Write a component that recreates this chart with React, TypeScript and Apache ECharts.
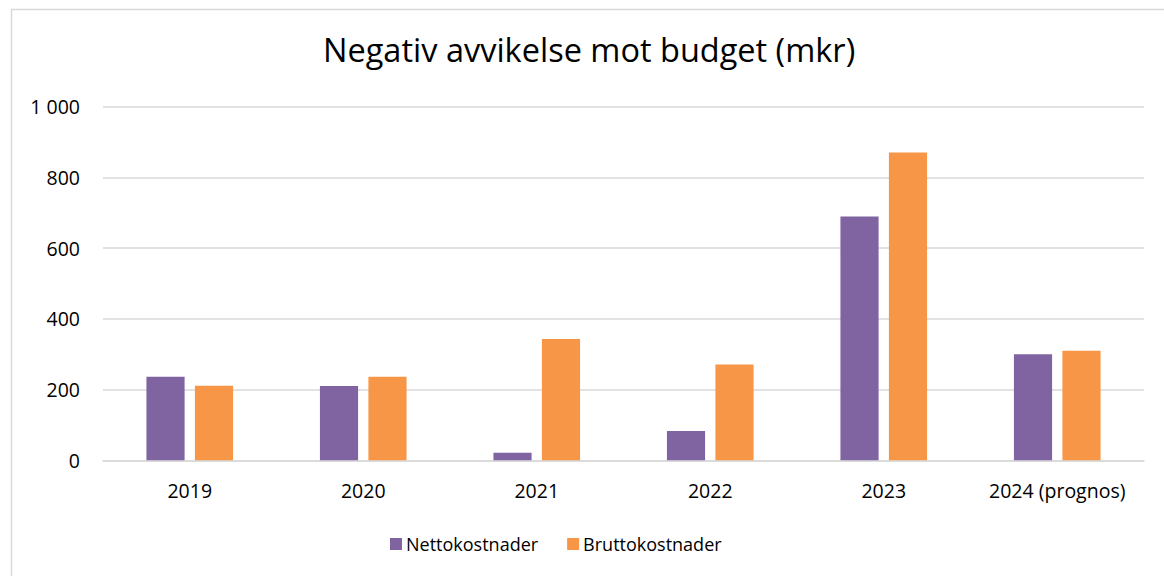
import React, { useEffect, useRef } from "react";
import * as echarts from "echarts";

const categories = ["2019", "2020", "2021", "2022", "2023", "2024 (prognos)"];
const nettokostnader = [236, 210, 21, 83, 689, 300];
const bruttokostnader = [211, 236, 343, 271, 870, 310];
const seriesNames = ["Nettokostnader", "Bruttokostnader"];
const titleText = "Negativ avvikelse mot budget (mkr)";

const FONT = "'Open Sans', 'Noto Sans', sans-serif";

export default function App() {
  const ref = useRef<HTMLDivElement>(null);
  useEffect(() => {
    if (!ref.current) return;
    const chart = echarts.init(ref.current, undefined, { renderer: "svg" });
    chart.setOption({
      animation: false,
      backgroundColor: "#ffffff",
      textStyle: { fontFamily: FONT },
      title: {
        text: titleText,
        left: 318,
        top: 28,
        textStyle: { fontFamily: FONT, fontSize: 32.5, fontWeight: "normal", color: "#000000" },
      },
      graphic: [
        {
          type: "rect",
          left: 9,
          top: 7,
          shape: { width: 1170, height: 580 },
          style: { fill: "none", stroke: "#d9d9d9", lineWidth: 1.5 },
          silent: true,
          z: -1,
        },
      ],
      legend: {
        bottom: 18,
        left: 385,
        itemWidth: 12,
        itemHeight: 12,
        itemGap: 29,
        icon: "rect",
        textStyle: { fontFamily: FONT, fontSize: 18, color: "#000000", padding: [0, 0, 0, -1] },
        data: seriesNames,
      },
      grid: { left: 103, right: 20, top: 106.6, bottom: 115.7, containLabel: false },
      xAxis: {
        type: "category",
        data: categories,
        axisLine: { show: true, lineStyle: { color: "#d9d9d9", width: 1.5 } },
        axisTick: { show: false },
        axisLabel: { interval: 0, fontFamily: FONT, fontSize: 19.5, color: "#000000", margin: 20 },
      },
      yAxis: {
        type: "value",
        min: 0,
        max: 1000,
        interval: 200,
        axisLine: { show: false },
        axisTick: { show: false },
        splitLine: { lineStyle: { color: "#d9d9d9", width: 1.5 } },
        axisLabel: {
          fontFamily: FONT,
          fontSize: 19.5,
          color: "#000000",
          margin: 23,
          formatter: (v: number) => String(v).replace(/\B(?=(\d{3})+(?!\d))/g, " "),
        },
      },
      series: [
        {
          name: seriesNames[0],
          type: "bar",
          data: nettokostnader,
          barWidth: "22%",
          barGap: "27%",
          itemStyle: { color: "#8064A2" },
        },
        {
          name: seriesNames[1],
          type: "bar",
          data: bruttokostnader,
          barWidth: "22%",
          itemStyle: { color: "#F79646" },
        },
      ],
    });
    return () => chart.dispose();
  }, []);
  return (
    <div
      ref={ref}
      style={{ position: "fixed", left: 0, top: 0, width: 1164, height: 576 }}
    />
  );
}
